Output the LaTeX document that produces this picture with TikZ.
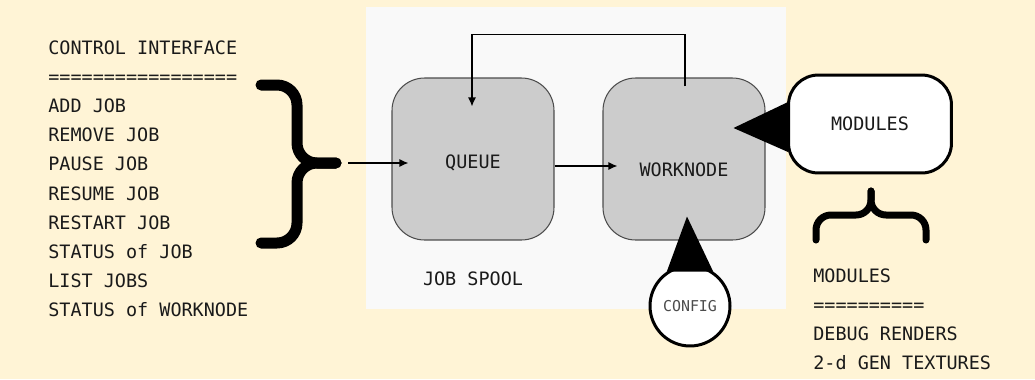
\documentclass[tikz,border=0pt]{standalone}
\usepackage{fontspec}
\setmonofont{DejaVu Sans Mono}
\usetikzlibrary{calc,arrows.meta}

\definecolor{paper}{HTML}{FFF4D6}
\definecolor{spool}{HTML}{F9F9F9}
\definecolor{boxgrey}{HTML}{CCCCCC}
\definecolor{ink}{HTML}{1A1A1A}

\def \boxSize {3.24cm}
\def \lineStep {29.2}

\begin{document}
\begin{tikzpicture}[x=0.02cm, y=-0.02cm, >={Latex[length=0.18cm,width=0.16cm]},
      every node/.style={font=\ttfamily\fontsize{10.5}{12}\selectfont, text=ink},
      listline/.style={anchor=base west, inner xsep=0pt},
      jobbox/.style={draw=black!70, fill=boxgrey, line width=0.6pt, rounded corners=0.65cm,
         minimum width=\boxSize, minimum height=\boxSize},
      modbox/.style={draw, fill=white, line width=0.06cm, rounded corners=0.6cm,
         minimum width=3.26cm, minimum height=1.96cm},
      confcircle/.style={circle, draw, fill=white, line width=0.06cm, minimum size=1.6cm,
         font=\ttfamily\fontsize{8.5}{10}\selectfont, text=black!70},
      flow/.style={->, line width=0.8pt},
      brace/.style={line cap=round, line join=round}]
      \fill[paper] (0,0) rectangle (1035,379);
      \useasboundingbox (0,0) rectangle (1035,379);

      % control interface
      \foreach \txt [count=\i] in {CONTROL INTERFACE, =================, ADD JOB, REMOVE JOB,
            PAUSE JOB, RESUME JOB, RESTART JOB, STATUS of JOB, LIST JOBS, STATUS of WORKNODE}
         \node[listline] (ctl\i) at (48, {54+(\i-1)*\lineStep}) {\txt};
      \coordinate (bracetip) at (336,163);
      \draw[brace, line width=0.22cm, rounded corners=0.4cm] (261,85) -| (297,163) -- (bracetip);
      \draw[brace, line width=0.22cm, rounded corners=0.4cm] (261,243) -| (297,163) -- (bracetip);

      % job spool
      \fill[spool] (366,7) rectangle (786,309);
      \node (spoollabel) at (473,279) {JOB SPOOL};
      \node[jobbox, text height=12pt] (queue) at (473,159) {QUEUE};
      \node[jobbox, text height=20pt] (worknode) at (684,159) {WORKNODE};
      \draw[flow] ($(bracetip)+(12,0)$) -- ($(bracetip -| queue.west)+(17,0)$);
      \draw[flow] ($(queue.east)+(0,7)$) -- ($(worknode.west)+(15,7)$);
      \draw[flow] ($(worknode.north)+(1,9)$) |- ($(queue.north)+(-1,-43)$) -- ($(queue.north)+(-1,29)$);

      % modules
      \node[modbox] (modules) at (870,124) {MODULES};
      \fill ($(modules.west)+(1,-22)$) -- ($(worknode.east)+(-32,-31)$) -- ($(modules.west)+(1,28)$) -- cycle;
      \draw[brace, line width=0.14cm, rounded corners=0.3cm] (816,240) |- (871,215) -- (871,191);
      \draw[brace, line width=0.14cm, rounded corners=0.3cm] (926,240) |- (871,215) -- (871,191);
      \foreach \txt [count=\i] in {MODULES, ==========, DEBUG RENDERS, 2-d GEN TEXTURES}
         \node[listline] (mod\i) at (813, {282+(\i-1)*29}) {\txt};

      % config
      \node[confcircle] (config) at (690,306) {CONFIG};
      \fill (config.124) -- ($(worknode.south)+(3,-24)$) -- (config.56) -- cycle;
\end{tikzpicture}
\end{document}
